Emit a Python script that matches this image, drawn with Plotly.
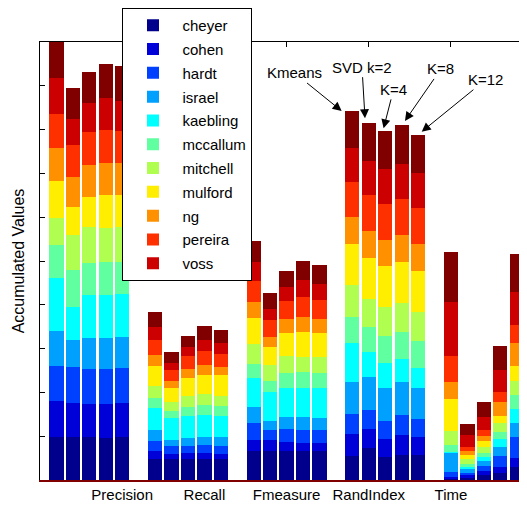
import plotly.graph_objects as go

metrics = ["Precision", "Recall", "Fmeasure", "RandIndex", "Time"]
methods = ["Kmeans", "SVD k=2", "K=4", "K=8", "K=12"]
classes = ["cheyer", "cohen", "hardt", "israel", "kaebling", "mccallum",
           "mitchell", "mulford", "ng", "pereira", "voss", "(unlisted)"]

# values per class: Precision x5 methods, Recall x5, Fmeasure x5, RandIndex x5, Time x5
cheyer = [0.975, 0.975, 0.975, 0.966, 0.975, 0.486, 0.486, 0.486, 0.486, 0.486,
          0.655, 0.655, 0.655, 0.655, 0.655, 0.555, 0.724, 0.532, 0.571, 0.571,
          0.03, 0.068, 0.114, 0.153, 0.290]
cohen = [0.838, 0.776, 0.760, 0.769, 0.783, 0.169, 0.107, 0.130, 0.130, 0.107,
         0.258, 0.251, 0.212, 0.196, 0.183, 0.495, 0.441, 0.404, 0.457, 0.411,
         0.03, 0.039, 0.084, 0.144, 0.219]
hardt = [0.799, 0.822, 0.799, 0.799, 0.799, 0.235, 0.183, 0.167, 0.176, 0.183,
         0.381, 0.228, 0.297, 0.290, 0.297, 0.457, 0.434, 0.404, 0.457, 0.411,
         0.12, 0.059, 0.121, 0.251, 0.473]
israel = [0.792, 0.623, 0.701, 0.715, 0.715, 0.258, 0.130, 0.176, 0.190, 0.199,
          0.379, 0.219, 0.274, 0.297, 0.288, 0.731, 0.753, 0.760, 0.753, 0.715,
          0.441, 0.078, 0.114, 0.212, 0.313]
kaebling = [1.203, 0.760, 0.989, 0.975, 0.975, 0.502, 0.509, 0.509, 0.502, 0.495,
            0.662, 0.655, 0.662, 0.662, 0.678, 0.890, 0.571, 0.571, 0.518, 0.457,
            0.01, 0.059, 0.091, 0.176, 0.320]
mccallum = [0.760, 0.838, 0.737, 0.747, 0.737, 0.215, 0.160, 0.199, 0.228, 0.221,
            0.320, 0.251, 0.336, 0.365, 0.342, 0.594, 0.564, 0.616, 0.616, 0.616,
            0.160, 0.068, 0.098, 0.167, 0.320]
mitchell = [0.623, 0.799, 0.808, 0.790, 0.785, 0.281, 0.212, 0.258, 0.244, 0.228,
            0.457, 0.358, 0.402, 0.349, 0.372, 0.731, 0.653, 0.662, 0.662, 0.662,
            0.336, 0.107, 0.123, 0.192, 0.326]
mulford = [0.838, 0.632, 0.699, 0.740, 0.737, 0.463, 0.313, 0.411, 0.441, 0.479,
           0.594, 0.411, 0.511, 0.571, 0.548, 0.929, 0.922, 0.936, 0.936, 0.922,
           0.715, 0.091, 0.137, 0.167, 0.342]
ng = [0.753, 0.699, 0.724, 0.744, 0.724, 0.244, 0.160, 0.199, 0.228, 0.183,
      0.358, 0.235, 0.320, 0.342, 0.320, 0.623, 0.630, 0.594, 0.630, 0.630,
      0.397, 0.091, 0.121, 0.326, 0.532]
pereira = [0.783, 0.724, 0.747, 0.747, 0.737, 0.336, 0.244, 0.304, 0.320, 0.297,
           0.479, 0.381, 0.425, 0.443, 0.434, 0.806, 0.815, 0.822, 0.815, 0.822,
           0.600, 0.091, 0.130, 0.215, 0.404]
voss = [0.815, 0.594, 0.669, 0.724, 0.692, 0.304, 0.167, 0.199, 0.251, 0.251,
        0.434, 0.265, 0.313, 0.395, 0.352, 0.776, 0.783, 0.799, 0.799, 0.792,
        1.217, 0.274, 0.304, 0.502, 0.747]
unlisted = [0.815, 0.701, 0.715, 0.776, 0.792, 0.336, 0.244, 0.258, 0.313, 0.304,
            0.479, 0.365, 0.372, 0.427, 0.447, 0.838, 0.861, 0.868, 0.884, 0.868,
            1.157, 0.244, 0.349, 0.555, 0.874]

series = [cheyer, cohen, hardt, israel, kaebling, mccallum, mitchell, mulford,
          ng, pereira, voss, unlisted]
colors = ["#00008c", "#0000d8", "#0040ff", "#00a0ff", "#00ffff", "#60ffa0",
          "#b0ff50", "#ffee00", "#ff9000", "#ff3000", "#cc0000", "#800000"]

# bar positions: group g centred at 1.2*g + 0.6, bars 0.2 apart
xpos = [1.2 * g + 0.2 + 0.2 * j for g in range(len(metrics)) for j in range(len(methods))]

fig = go.Figure()
for i, (name, vals) in enumerate(zip(classes, series)):
    fig.add_trace(go.Bar(
        x=xpos, y=vals, name=name, width=0.174,
        marker=dict(color=colors[i], line=dict(width=0)),
        legendgroup=name, showlegend=(i < 11),
    ))
# dummy trace for the top axis
fig.add_trace(go.Scatter(x=[None], y=[None], xaxis="x2", showlegend=False, hoverinfo="skip"))

FONT = "Liberation Sans, Arial, sans-serif"

# annotations on RandIndex group
ri = metrics.index("RandIndex")
head_dx = [-0.13, -0.046, -0.02, 0.04, 0.044]
head_dy = [0.0, 0.11, 0.06, 0.10, 0.075]
text_off = [(-47, -38), (-3, -51), (10, -39), (36, -52), (64, -52)]
annotations = []
for j, m in enumerate(methods):
    k = ri * len(methods) + j
    total = sum(s[k] for s in series)
    annotations.append(dict(
        x=xpos[k] + head_dx[j], y=total + head_dy[j], xref="x", yref="y",
        text=m, showarrow=True, ax=text_off[j][0], ay=text_off[j][1],
        arrowhead=2, arrowsize=1.8, arrowwidth=1, arrowcolor="black",
        font=dict(family=FONT, size=15, color="black"),
    ))

# page has an 8px body margin, so the figure is sized 519x498
fig.update_layout(
    width=519, height=498,
    margin=dict(l=32, r=0, t=34, b=26, autoexpand=False),
    plot_bgcolor="white", paper_bgcolor="white",
    barmode="stack", bargap=0,
    font=dict(family=FONT, size=15, color="black"),
    showlegend=True,
    legend=dict(
        x=0.1694, y=1.0776, xanchor="left", yanchor="top",
        bgcolor="white", bordercolor="black", borderwidth=1,
        font=dict(family=FONT, size=15, color="black"),
        traceorder="grouped", tracegroupgap=1.3, itemwidth=49,
        entrywidth=62, entrywidthmode="pixels",
        maxheight=420,
    ),
    xaxis=dict(
        range=[0, 5.925], tickvals=[1, 2, 3, 4, 5], ticktext=metrics,
        ticks="", showline=True, linecolor="#800000", linewidth=2,
        showgrid=False, zeroline=False, layer="below traces", automargin=False,
        tickfont=dict(family=FONT, size=15, color="black"),
    ),
    xaxis2=dict(
        overlaying="x", side="top", range=[0, 5.925], tickvals=[0, 1, 2, 3, 4, 5, 6],
        ticks="inside", ticklen=5, tickcolor="black", showticklabels=False,
        showline=True, linecolor="black", linewidth=1, showgrid=False, zeroline=False,
    ),
    yaxis=dict(
        range=[0, 10], tickvals=list(range(11)), ticks="inside", ticklen=5,
        tickcolor="black", showticklabels=False, showline=True, linecolor="black",
        linewidth=1, showgrid=False, zeroline=False, automargin=False,
        title=dict(text="Accumulated Values", font=dict(family=FONT, size=16, color="black"),
                   standoff=10),
    ),
    annotations=annotations,
)

fig.write_html("out.html")
